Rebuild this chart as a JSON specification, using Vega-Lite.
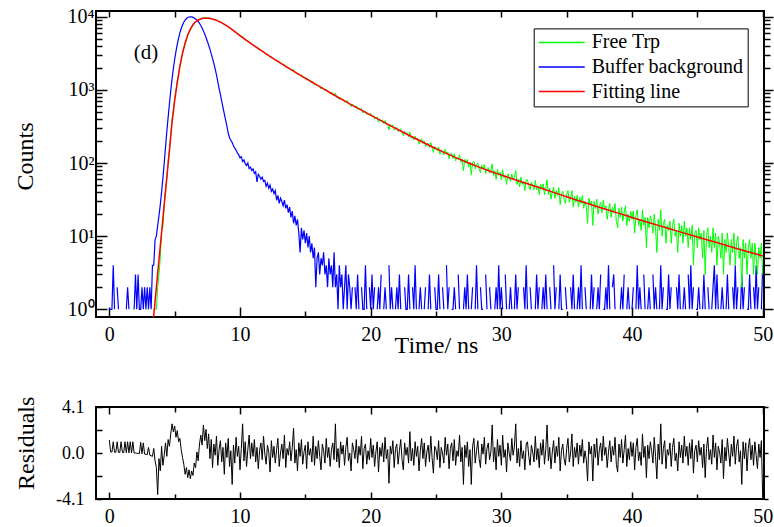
{
"$schema":"https://vega.github.io/schema/vega-lite/v6.json",
"background":"white",
"padding":{"left":12,"top":5,"right":5,"bottom":0},
"spacing":37,
"config":{"view":{"stroke":"black","strokeWidth":2},"font":"Liberation Serif",
"axis":{"labelFont":"Liberation Serif","titleFont":"Liberation Serif","labelColor":"black","titleColor":"black","tickColor":"black","tickWidth":1.5,"domain":false,"grid":false,"labelFontSize":20,"titleFontSize":24,"titleFontWeight":"normal","labelFlush":false,"labelOverlap":false}},
"datasets":{
"m":[
{"t":0,"b":1,"r":1.15},{"t":0.1,"b":1,"r":0.1},{"t":0.2,"b":1,"r":0.08},{"t":0.3,"b":4,"r":1.0},{"t":0.4,"b":1,"r":0.07},{"t":0.5,"r":0.06},{"t":0.6,"b":2,"r":1.0},{"t":0.7,"b":1,"r":0.05},{"t":0.8,"r":0.05},{"t":0.9,"r":1.0},
{"t":1.0,"r":0.04},{"t":1.1,"r":0.03},{"t":1.2,"r":1.0},{"t":1.3,"b":1,"r":0.02},{"t":1.4,"b":2,"r":1.0},{"t":1.5,"b":1,"r":0.01},{"t":1.6,"r":1.0},{"t":1.7,"r":0},{"t":1.8,"g":1,"r":1.0},{"t":1.9,"b":1,"g":1,"r":-0.01},
{"t":2.0,"b":3,"r":0},{"t":2.1,"b":1,"r":-0.02},{"t":2.2,"b":3,"r":-0.03},{"t":2.3,"b":1,"r":-0.05},{"t":2.4,"b":1,"r":0.95},{"t":2.5,"b":2,"r":-0.06},{"t":2.6,"b":1,"r":0.9},{"t":2.7,"b":2,"r":-0.1},{"t":2.8,"b":1,"r":-0.12},{"t":2.9,"b":2,"g":1,"r":-0.15},
{"t":3.0,"b":1,"g":1,"r":0.5},{"t":3.1,"b":2,"r":-0.2},{"t":3.2,"b":1,"r":-0.25},{"t":3.3,"b":4,"r":-0.3},{"t":3.4,"b":4,"g":1,"r":0.4},{"t":3.5,"b":9,"g":1,"r":-0.7},{"t":3.6,"b":10,"g":1,"r":-1.3},{"t":3.7,"b":14,"g":2,"r":-3.7},{"t":3.8,"b":19,"g":3,"r":-0.5},{"t":3.9,"b":27,"g":5,"r":-1.6},
{"t":4.0,"b":40,"g":12,"r":0.6},{"t":4.1,"b":62,"g":13,"r":-1.1},{"t":4.2,"b":100,"g":26,"r":-0.2},{"t":4.3,"b":165,"g":47,"r":0.9},{"t":4.4,"b":270,"g":61,"r":-0.3},{"t":4.5,"b":420,"g":109,"r":1.2},{"t":4.6,"b":650,"g":155,"r":0.6},{"t":4.7,"b":980,"g":255,"r":1.7},{"t":4.8,"b":1400,"g":404,"r":2.6},{"t":4.9,"b":1950,"g":542,"r":1.9},
{"t":5.0,"b":2600,"g":774,"r":2.4},{"t":5.1,"b":3350,"g":987,"r":1.4},{"t":5.2,"b":4200,"g":1331,"r":2.0},{"t":5.3,"b":5100,"g":1660,"r":1.0},{"t":5.4,"b":6000,"g":2149,"r":1.3},{"t":5.5,"b":6900,"g":2585,"r":0.3},{"t":5.6,"b":7700,"g":3138,"r":-0.4},{"t":5.7,"b":8400,"g":3659,"r":-1.0},{"t":5.8,"b":9000,"g":4244,"r":-1.9},{"t":5.9,"b":9450,"g":4858,"r":-1.3},
{"t":6.0,"b":9750,"g":5455,"r":-2.2},{"t":6.1,"b":9920,"g":6052,"r":-1.5},{"t":6.2,"b":9980,"g":6571,"r":-2.3},{"t":6.3,"b":9950,"g":7104,"r":-1.6},{"t":6.4,"b":9800,"g":7584,"r":-2.0},{"t":6.5,"b":9580,"g":8049,"r":-0.9},{"t":6.6,"b":9300,"g":8390,"r":-1.3},{"t":6.7,"b":8980,"g":8779,"r":0.1},{"t":6.8,"b":8600,"g":8954,"r":-0.7},{"t":6.9,"b":8130,"g":9257,"r":0.8},
{"t":7.0,"b":7600,"g":9484,"r":1.6},{"t":7.1,"b":7000,"g":9488,"r":0.7},{"t":7.2,"b":6400,"g":9754,"r":2.5},{"t":7.3,"b":5800,"g":9637,"r":1.1},{"t":7.4,"b":5200,"g":9755,"r":2.1},{"t":7.5,"b":4620,"g":9579,"r":0.4},{"t":7.6,"b":4100,"g":9676,"r":1.7},{"t":7.7,"b":3580,"g":9401,"r":-0.5},{"t":7.8,"b":3100,"g":9496,"r":1.2},{"t":7.9,"b":2680,"g":9165,"r":-1.3},
{"t":8.0,"b":2300,"g":9237,"r":0.8},{"t":8.1,"b":1930,"g":9021,"r":-0.2},{"t":8.2,"b":1600,"g":9052,"r":1.5},{"t":8.3,"b":1300,"g":8667,"r":-1.1},{"t":8.4,"b":1050,"g":8648,"r":0.3},{"t":8.5,"b":860,"g":8551,"r":1.1},{"t":8.6,"b":700,"g":8197,"r":-0.8},{"t":8.7,"b":570,"g":8125,"r":0.5},{"t":8.8,"b":470,"g":7711,"r":-1.9},{"t":8.9,"b":385,"g":7759,"r":0.9},
{"t":9.0,"b":320,"g":7445,"r":-0.4},{"t":9.1,"b":255,"g":7381,"r":1.3},{"t":9.2,"b":222,"g":6969,"r":-1.2},{"t":9.3,"b":205,"g":6877,"r":0.2},{"t":9.4,"b":190,"g":6432,"r":-2.8},{"t":9.5,"b":172,"g":6516,"r":0.7},{"t":9.6,"b":160,"g":6189,"r":-0.9},{"t":9.7,"b":150,"g":6169,"r":1.4},{"t":9.8,"b":136,"g":5857,"r":-0.3},{"t":9.9,"b":130,"g":5745,"r":0.6},
{"t":10.0,"b":118,"g":5409,"r":-1.5},{"t":10.1,"b":122,"g":5389,"r":0.4},{"t":10.2,"b":105,"g":5387,"r":2.6},{"t":10.3,"b":110,"g":4990,"r":-0.7},{"t":10.4,"b":98,"g":4960,"r":1.0},{"t":10.5,"b":92,"g":4657,"r":-1.2},{"t":10.6,"b":100,"g":4630,"r":0.3},{"t":10.7,"b":84,"g":4587,"r":1.6},{"t":10.8,"b":88,"g":4317,"r":-0.5},{"t":10.9,"b":79,"g":4278,"r":0.9},
{"t":11.0,"b":83,"g":4081,"r":-0.3},{"t":11.1,"b":72,"g":4066,"r":1.2},{"t":11.2,"b":76,"g":3830,"r":-0.8},{"t":11.3,"b":55,"g":3801,"r":0.5},{"t":11.4,"b":70,"g":3580,"r":-1.4},{"t":11.5,"b":66,"g":3577,"r":0.2},{"t":11.6,"b":60,"g":3523,"r":0.9},{"t":11.7,"b":64,"g":3340,"r":-0.6},{"t":11.8,"b":56,"g":3371,"r":1.5},{"t":11.9,"b":58,"g":3189,"r":-0.1},
{"t":12.0,"b":48,"g":3054,"r":-1.0},{"t":12.1,"b":53,"g":3069,"r":0.7},{"t":12.2,"b":45,"g":2955,"r":0.1},{"t":12.3,"b":50,"g":2779,"r":-1.7},{"t":12.4,"b":41,"g":2853,"r":1.1},{"t":12.5,"b":44,"g":2699,"r":-0.4},{"t":12.6,"b":38,"g":2681,"r":0.6},{"t":12.7,"b":42,"g":2539,"r":-0.9},{"t":12.8,"b":31,"g":2530,"r":0.3},{"t":12.9,"b":36,"g":2514,"r":1.3},
{"t":13.0,"b":28,"g":2331,"r":-1.2},{"t":13.1,"b":33,"g":2330,"r":0},{"t":13.2,"b":30,"g":2308,"r":0.8},{"t":13.3,"b":26,"g":2187,"r":-0.5},{"t":13.4,"b":31,"g":2229,"r":1.6},{"t":13.5,"b":24,"g":2040,"r":-1.3},{"t":13.6,"b":27,"g":2066,"r":0.4},{"t":13.7,"b":21,"g":1988,"r":-0.2},{"t":13.8,"b":25,"g":1991,"r":1.0},{"t":13.9,"b":18,"g":1867,"r":-0.7},
{"t":14.0,"b":22,"g":1872,"r":0.5},{"t":14.1,"b":15,"g":1899,"r":2.2},{"t":14.2,"b":19,"g":1723,"r":-0.9},{"t":14.3,"b":14,"g":1729,"r":0.3},{"t":14.4,"b":17,"g":1610,"r":-1.6},{"t":14.5,"b":11,"g":1669,"r":0.9},{"t":14.6,"b":6,"g":1582,"r":-0.3},{"t":14.7,"b":13,"g":1603,"r":1.2},{"t":14.8,"b":9,"g":1479,"r":-1.0},{"t":14.9,"b":12,"g":1485,"r":0.1},
{"t":15.0,"b":8,"g":1472,"r":0.7},{"t":15.1,"b":11,"g":1358,"r":-1.4},{"t":15.2,"b":7,"g":1414,"r":1.0},{"t":15.3,"b":10,"g":1337,"r":-0.2},{"t":15.4,"b":6,"g":1326,"r":0.4},{"t":15.5,"b":8,"g":1251,"r":-0.8},{"t":15.6,"b":5,"g":1303,"r":1.5},{"t":15.7,"b":7,"g":1182,"r":-1.1},{"t":15.8,"b":2,"g":1212,"r":0.6},{"t":15.9,"b":5,"g":1146,"r":-0.5},
{"t":16.0,"b":6,"g":1172,"r":1.1},{"t":16.1,"b":3,"g":1098,"r":-0.3},{"t":16.2,"b":5,"g":1033,"r":-1.5},{"t":16.3,"b":4,"g":1082,"r":0.8},{"t":16.4,"b":6,"g":1036,"r":0.2},{"t":16.5,"b":3,"g":976,"r":-0.9},{"t":16.6,"b":4,"g":1023,"r":1.3},{"t":16.7,"b":2,"g":947,"r":-0.4},{"t":16.8,"b":5,"g":951,"r":0.5},{"t":16.9,"b":3,"g":878,"r":-1.2},
{"t":17.0,"b":4,"g":901,"r":0.3},{"t":17.1,"b":2,"g":898,"r":0.9},{"t":17.2,"b":6,"g":833,"r":-0.6},{"t":17.3,"b":2,"g":906,"r":2.6},{"t":17.4,"b":3,"g":789,"r":-0.8},{"t":17.5,"b":1,"g":804,"r":0.4},{"t":17.6,"b":4,"g":739,"r":-1.3},{"t":17.7,"b":2,"g":785,"r":1.0},{"t":17.8,"b":3,"g":736,"r":-0.1},{"t":17.9,"b":1,"g":741,"r":0.7},
{"t":18.0,"b":2,"g":677,"r":-1.1},{"t":18.1,"b":4,"g":703,"r":0.5},{"t":18.2,"b":1,"g":710,"r":1.4},{"t":18.3,"b":3,"g":641,"r":-0.7},{"t":18.4,"b":2,"g":644,"r":0},{"t":18.5,"b":1,"g":590,"r":-1.6},{"t":18.6,"b":2,"g":638,"r":0.9},{"t":18.7,"g":609,"r":0.3},{"t":18.8,"b":2,"g":577,"r":-0.5},{"t":18.9,"b":1,"g":605,"r":1.2},
{"t":19.0,"b":3,"g":542,"r":-0.9},{"t":19.1,"b":1,"g":565,"r":0.6},{"t":19.2,"g":534,"r":-0.2},{"t":19.3,"b":2,"g":562,"r":1.5},{"t":19.4,"b":1,"g":483,"r":-1.4},{"t":19.5,"b":1,"g":513,"r":0.4},{"t":19.6,"b":4,"g":511,"r":0.8},{"t":19.7,"b":1,"g":460,"r":-1.0},{"t":19.8,"g":475,"r":0.2},{"t":19.9,"b":2,"g":448,"r":-0.6},
{"t":20.0,"b":1,"g":479,"r":1.3},{"t":20.1,"b":3,"g":433,"r":-0.4},{"t":20.2,"b":1,"g":447,"r":0.7},{"t":20.3,"b":2,"g":397,"r":-1.2},{"t":20.4,"g":415,"r":0.1},{"t":20.5,"b":1,"g":424,"r":1.0},{"t":20.6,"b":2,"g":361,"r":-1.7},{"t":20.7,"b":1,"g":397,"r":0.5},{"t":20.8,"b":3,"g":372,"r":-0.3},{"t":20.9,"g":387,"r":0.9},
{"t":21.0,"b":1,"g":347,"r":-0.8},{"t":21.1,"b":2,"g":380,"r":1.4},{"t":21.2,"b":1,"g":338,"r":-0.5},{"t":21.3,"g":345,"r":0.3},{"t":21.4,"b":4,"g":283,"r":-2.7},{"t":21.5,"b":1,"g":336,"r":0.6},{"t":21.6,"b":2,"g":316,"r":-0.1},{"t":21.7,"b":1,"g":330,"r":1.1},{"t":21.8,"g":282,"r":-1.3},{"t":21.9,"b":1,"g":305,"r":0.4},
{"t":22.0,"b":2,"g":306,"r":0.8},{"t":22.1,"b":1,"g":269,"r":-1.0},{"t":22.2,"b":3,"g":283,"r":0.2},{"t":22.3,"b":1,"g":294,"r":1.2},{"t":22.4,"g":258,"r":-0.6},{"t":22.5,"g":238,"r":-1.5},{"t":22.6,"b":2,"g":271,"r":0.9},{"t":22.7,"b":1,"g":248,"r":-0.2},{"t":22.8,"b":1,"g":254,"r":0.5},{"t":22.9,"b":3,"g":227,"r":-0.9},
{"t":23.0,"b":1,"g":265,"r":1.9},{"t":23.1,"g":220,"r":-0.7},{"t":23.2,"b":2,"g":233,"r":0.4},{"t":23.3,"b":1,"g":206,"r":-1.1},{"t":23.4,"b":4,"g":233,"r":1.0},{"t":23.5,"b":1,"g":209,"r":-0.3},{"t":23.6,"g":218,"r":0.6},{"t":23.7,"b":1,"g":181,"r":-1.6},{"t":23.8,"b":2,"g":203,"r":0.2},{"t":23.9,"b":1,"g":214,"r":1.3},
{"t":24.0,"g":185,"r":-0.5},{"t":24.1,"b":1,"g":200,"r":0.9},{"t":24.2,"b":2,"g":168,"r":-1.2},{"t":24.3,"g":182,"r":0.1},{"t":24.4,"b":1,"g":186,"r":0.7},{"t":24.5,"b":3,"g":163,"r":-0.8},{"t":24.6,"b":1,"g":190,"r":1.5},{"t":24.7,"g":162,"r":-0.4},{"t":24.8,"g":140,"r":-1.8},{"t":24.9,"b":2,"g":168,"r":0.6},
{"t":25.0,"b":1,"g":161,"r":0.3},{"t":25.1,"b":1,"g":147,"r":-0.6},{"t":25.2,"b":3,"g":165,"r":1.1},{"t":25.3,"b":1,"g":132,"r":-1.3},{"t":25.4,"g":152,"r":0.5},{"t":25.5,"b":2,"g":143,"r":0},{"t":25.6,"b":1,"g":129,"r":-0.9},{"t":25.7,"g":154,"r":1.4},{"t":25.8,"b":4,"g":133,"r":-0.2},{"t":25.9,"b":1,"g":142,"r":0.8},
{"t":26.0,"b":2,"g":114,"r":-1.4},{"t":26.1,"g":133,"r":0.4},{"t":26.2,"b":1,"g":135,"r":0.9},{"t":26.3,"b":1,"g":115,"r":-0.7},{"t":26.4,"b":2,"g":134,"r":1.2},{"t":26.5,"b":1,"g":107,"r":-1.1},{"t":26.6,"g":119,"r":0.2},{"t":26.7,"b":3,"g":112,"r":-0.3},{"t":26.8,"b":1,"g":130,"r":1.6},{"t":26.9,"g":103,"r":-0.8},
{"t":27.0,"g":114,"r":0.5},{"t":27.1,"b":1,"g":78,"r":-2.8},{"t":27.2,"b":2,"g":112,"r":0.7},{"t":27.3,"b":1,"g":100,"r":-0.4},{"t":27.4,"b":3,"g":112,"r":1.0},{"t":27.5,"b":1,"g":88,"r":-1.2},{"t":27.6,"g":102,"r":0.3},{"t":27.7,"b":1,"g":69,"r":-2.8},{"t":27.8,"b":2,"g":101,"r":0.6},{"t":27.9,"g":106,"r":1.3},
{"t":28.0,"b":1,"g":83,"r":-0.9},{"t":28.1,"b":4,"g":93,"r":0.2},{"t":28.2,"b":1,"g":100,"r":1.1},{"t":28.3,"g":83,"r":-0.5},{"t":28.4,"b":2,"g":74,"r":-1.3},{"t":28.5,"b":1,"g":93,"r":0.8},{"t":28.6,"b":1,"g":83,"r":-0.1},{"t":28.7,"g":95,"r":1.4},{"t":28.8,"b":3,"g":72,"r":-1.0},{"t":28.9,"b":1,"g":84,"r":0.4},
{"t":29.0,"g":87,"r":0.9},{"t":29.1,"b":2,"g":73,"r":-0.6},{"t":29.2,"b":1,"g":78,"r":0.1},{"t":29.3,"g":97,"r":2.5},{"t":29.4,"g":68,"r":-0.8},{"t":29.5,"b":1,"g":78,"r":0.5},{"t":29.6,"b":2,"g":60,"r":-1.5},{"t":29.7,"b":1,"g":82,"r":1.2},{"t":29.8,"b":4,"g":68,"r":-0.3},{"t":29.9,"b":1,"g":75,"r":0.7},
{"t":30.0,"b":2,"g":59,"r":-1.1},{"t":30.1,"b":1,"g":81,"r":1.6},{"t":30.2,"g":63,"r":-0.4},{"t":30.3,"b":3,"g":68,"r":0.3},{"t":30.4,"b":1,"g":51,"r":-1.7},{"t":30.5,"g":71,"r":0.9},{"t":30.6,"b":1,"g":63,"r":0},{"t":30.7,"b":2,"g":56,"r":-0.7},{"t":30.8,"b":1,"g":71,"r":1.3},{"t":30.9,"g":59,"r":-0.2},
{"t":31.0,"b":1,"g":64,"r":0.6},{"t":31.1,"b":3,"g":79,"r":2.6},{"t":31.2,"b":1,"g":51,"r":-0.9},{"t":31.3,"b":2,"g":60,"r":0.4},{"t":31.4,"g":47,"r":-1.2},{"t":31.5,"b":1,"g":64,"r":1.1},{"t":31.6,"g":51,"r":-0.5},{"t":31.7,"b":2,"g":56,"r":0.2},{"t":31.8,"b":1,"g":42,"r":-1.5},{"t":31.9,"b":4,"g":59,"r":0.8},
{"t":32.0,"b":1,"g":59,"r":1.0},{"t":32.1,"g":49,"r":-0.3},{"t":32.2,"b":2,"g":43,"r":-1.1},{"t":32.3,"b":1,"g":55,"r":0.7},{"t":32.4,"g":50,"r":0.1},{"t":32.5,"g":43,"r":-0.8},{"t":32.6,"b":1,"g":58,"r":1.5},{"t":32.7,"b":3,"g":43,"r":-0.6},{"t":32.8,"b":1,"g":49,"r":0.4},{"t":32.9,"b":2,"g":37,"r":-1.3},
{"t":33.0,"g":51,"r":0.9},{"t":33.1,"b":1,"g":44,"r":-0.2},{"t":33.2,"b":2,"g":52,"r":1.2},{"t":33.3,"b":1,"g":37,"r":-1.0},{"t":33.4,"b":3,"g":45,"r":0.3},{"t":33.5,"b":1,"g":59,"r":2.5},{"t":33.6,"g":37,"r":-0.7},{"t":33.7,"b":2,"g":45,"r":0.5},{"t":33.8,"b":1,"g":32,"r":-1.4},{"t":33.9,"g":41,"r":0.1},
{"t":34.0,"b":4,"g":47,"r":1.1},{"t":34.1,"b":1,"g":33,"r":-0.9},{"t":34.2,"b":2,"g":42,"r":0.6},{"t":34.3,"g":36,"r":-0.3},{"t":34.4,"b":1,"g":46,"r":1.4},{"t":34.5,"b":3,"g":27,"r":-1.6},{"t":34.6,"b":1,"g":38,"r":0.2},{"t":34.7,"b":1,"g":41,"r":0.8},{"t":34.8,"g":32,"r":-0.5},{"t":34.9,"b":2,"g":28,"r":-1.1},
{"t":35.0,"b":1,"g":37,"r":0.4},{"t":35.1,"g":42,"r":1.3},{"t":35.2,"g":29,"r":-0.8},{"t":35.3,"b":2,"g":33,"r":0},{"t":35.4,"b":1,"g":42,"r":1.7},{"t":35.5,"b":3,"g":25,"r":-1.2},{"t":35.6,"b":1,"g":35,"r":0.5},{"t":35.7,"g":29,"r":-0.4},{"t":35.8,"b":1,"g":36,"r":0.9},{"t":35.9,"b":2,"g":25,"r":-1.0},
{"t":36.0,"b":1,"g":34,"r":0.7},{"t":36.1,"b":4,"g":28,"r":-0.3},{"t":36.2,"b":1,"g":36,"r":1.2},{"t":36.3,"g":24,"r":-0.9},{"t":36.4,"b":2,"g":30,"r":0.2},{"t":36.5,"b":1,"g":25,"r":-0.6},{"t":36.6,"g":15,"r":-2.5},{"t":36.7,"g":33,"r":1.0},{"t":36.8,"b":1,"g":27,"r":-0.1},{"t":36.9,"b":3,"g":30,"r":0.6},
{"t":37.0,"b":1,"g":14,"r":-2.5},{"t":37.1,"b":2,"g":30,"r":0.8},{"t":37.2,"g":24,"r":-0.4},{"t":37.3,"b":1,"g":32,"r":1.3},{"t":37.4,"b":2,"g":20,"r":-1.1},{"t":37.5,"b":1,"g":26,"r":0.3},{"t":37.6,"b":3,"g":29,"r":0.9},{"t":37.7,"g":21,"r":-0.7},{"t":37.8,"b":1,"g":31,"r":1.5},{"t":37.9,"b":1,"g":23,"r":-0.2},
{"t":38.0,"b":2,"g":26,"r":0.5},{"t":38.1,"b":1,"g":17,"r":-1.3},{"t":38.2,"b":4,"g":23,"r":0.1},{"t":38.3,"b":1,"g":28,"r":1.1},{"t":38.4,"g":18,"r":-0.8},{"t":38.5,"b":2,"g":25,"r":0.6},{"t":38.6,"b":3,"g":21,"r":-0.2},{"t":38.7,"b":1,"g":28,"r":1.4},{"t":38.8,"g":16,"r":-1.0},{"t":38.9,"b":1,"g":13,"r":-1.7},
{"t":39.0,"g":24,"r":0.8},{"t":39.1,"b":1,"g":18,"r":-0.4},{"t":39.2,"b":2,"g":25,"r":1.2},{"t":39.3,"b":1,"g":16,"r":-0.9},{"t":39.4,"b":3,"g":21,"r":0.3},{"t":39.5,"g":26,"r":1.6},{"t":39.6,"b":1,"g":14,"r":-1.2},{"t":39.7,"b":2,"g":20,"r":0.4},{"t":39.8,"b":1,"g":16,"r":-0.6},{"t":39.9,"g":22,"r":1.0},
{"t":40.0,"b":1,"g":17,"r":-0.3},{"t":40.1,"b":2,"g":22,"r":0.9},{"t":40.2,"g":11,"r":-1.5},{"t":40.3,"b":1,"g":19,"r":0.5},{"t":40.4,"b":4,"g":23,"r":1.3},{"t":40.5,"b":1,"g":14,"r":-0.7},{"t":40.6,"b":2,"g":17,"r":0.1},{"t":40.7,"b":1,"g":12,"r":-1.1},{"t":40.8,"g":23,"r":1.7},{"t":40.9,"b":3,"g":14,"r":-0.4},
{"t":41.0,"b":1,"g":18,"r":0.6},{"t":41.1,"g":7,"r":-2.2},{"t":41.2,"b":1,"g":18,"r":0.7},{"t":41.3,"b":2,"g":13,"r":-0.5},{"t":41.4,"b":1,"g":19,"r":1.0},{"t":41.5,"g":16,"r":0.2},{"t":41.6,"b":3,"g":11,"r":-0.9},{"t":41.7,"b":1,"g":20,"r":1.4},{"t":41.8,"b":2,"g":13,"r":-0.3},{"t":41.9,"b":1,"g":6,"r":-2.3},
{"t":42.0,"g":17,"r":0.8},{"t":42.1,"b":1,"g":12,"r":-0.6},{"t":42.2,"b":4,"g":23,"r":2.6},{"t":42.3,"b":1,"g":10,"r":-1.0},{"t":42.4,"b":2,"g":15,"r":0.4},{"t":42.5,"g":17,"r":1.1},{"t":42.6,"b":1,"g":8,"r":-1.4},{"t":42.7,"b":1,"g":14,"r":0.3},{"t":42.8,"b":3,"g":12,"r":-0.2},{"t":42.9,"b":1,"g":16,"r":0.9},
{"t":43.0,"b":2,"g":8,"r":-1.2},{"t":43.1,"g":14,"r":0.5},{"t":43.2,"b":1,"g":17,"r":1.3},{"t":43.3,"g":10,"r":-0.7},{"t":43.4,"b":2,"g":12,"r":0},{"t":43.5,"b":1,"g":6,"r":-1.6},{"t":43.6,"b":3,"g":15,"r":1.0},{"t":43.7,"b":1,"g":10,"r":-0.4},{"t":43.8,"g":14,"r":0.7},{"t":43.9,"b":1,"g":8,"r":-0.9},
{"t":44.0,"b":2,"g":16,"r":1.5},{"t":44.1,"b":1,"g":10,"r":-0.3},{"t":44.2,"g":13,"r":0.6},{"t":44.3,"b":3,"g":7,"r":-1.1},{"t":44.4,"b":1,"g":13,"r":0.9},{"t":44.5,"b":4,"g":9,"r":-0.5},{"t":44.6,"b":1,"g":14,"r":1.2},{"t":44.7,"b":2,"g":4,"r":-1.8},{"t":44.8,"g":11,"r":0.2},{"t":44.9,"b":1,"g":12,"r":0.7},
{"t":45.0,"b":1,"g":7,"r":-0.8},{"t":45.1,"b":2,"g":13,"r":1.1},{"t":45.2,"b":1,"g":9,"r":-0.2},{"t":45.3,"g":11,"r":0.5},{"t":45.4,"b":1,"g":5,"r":-1.3},{"t":45.5,"b":3,"g":12,"r":0.8},{"t":45.6,"b":1,"g":3,"r":-2.2},{"t":45.7,"g":10,"r":0.4},{"t":45.8,"b":2,"g":13,"r":1.4},{"t":45.9,"b":1,"g":7,"r":-0.6},
{"t":46.0,"g":10,"r":0.3},{"t":46.1,"b":1,"g":6,"r":-1.0},{"t":46.2,"b":2,"g":13,"r":1.6},{"t":46.3,"b":4,"g":7,"r":-0.4},{"t":46.4,"b":1,"g":11,"r":0.9},{"t":46.5,"b":3,"g":4,"r":-1.5},{"t":46.6,"b":1,"g":10,"r":0.6},{"t":46.7,"g":8,"r":0.1},{"t":46.8,"b":1,"g":5,"r":-0.9},{"t":46.9,"b":2,"g":11,"r":1.2},
{"t":47.0,"b":1,"g":3,"r":-2.3},{"t":47.1,"g":9,"r":0.5},{"t":47.2,"b":1,"g":6,"r":-0.7},{"t":47.3,"b":3,"g":11,"r":1.3},{"t":47.4,"b":1,"g":7,"r":0},{"t":47.5,"g":4,"r":-1.2},{"t":47.6,"g":9,"r":0.8},{"t":47.7,"b":2,"g":6,"r":-0.3},{"t":47.8,"b":1,"g":11,"r":1.5},{"t":47.9,"b":4,"g":4,"r":-1.0},
{"t":48.0,"b":1,"g":8,"r":0.6},{"t":48.1,"b":2,"g":10,"r":1.2},{"t":48.2,"g":5,"r":-0.8},{"t":48.3,"b":1,"g":7,"r":0.2},{"t":48.4,"b":3,"g":2,"r":-2.8},{"t":48.5,"b":1,"g":9,"r":1.0},{"t":48.6,"b":2,"g":5,"r":-0.5},{"t":48.7,"g":8,"r":0.9},{"t":48.8,"b":1,"g":3,"r":-1.6},{"t":48.9,"b":1,"g":7,"r":0.4},
{"t":49.0,"b":3,"g":9,"r":1.3},{"t":49.1,"b":1,"g":5,"r":-0.6},{"t":49.2,"g":8,"r":0.7},{"t":49.3,"b":2,"g":3,"r":-1.1},{"t":49.4,"b":1,"g":8,"r":1.0},{"t":49.5,"b":4,"g":5,"r":-0.2},{"t":49.6,"b":1,"g":3,"r":-1.4},{"t":49.7,"b":2,"g":7,"r":0.8},{"t":49.8,"g":5,"r":-0.4},{"t":49.9,"b":1,"g":8,"r":1.1},
{"t":50.0,"b":4,"g":3,"r":-4.0}
],
"fit":[
{"t":3.3,"f":0.6},{"t":3.4,"f":0.83},{"t":3.5,"f":1.29},{"t":3.6,"f":2.0},{"t":3.7,"f":3.1},{"t":3.8,"f":4.8},{"t":3.9,"f":7.3},{"t":4.0,"f":11.2},{"t":4.1,"f":17.4},{"t":4.2,"f":27},{"t":4.3,"f":41},{"t":4.4,"f":63},{"t":4.5,"f":97},{"t":4.6,"f":148},{"t":4.7,"f":229},{"t":4.8,"f":355},{"t":4.9,"f":500},
{"t":5.0,"f":710},{"t":5.1,"f":944},{"t":5.2,"f":1260},{"t":5.3,"f":1620},{"t":5.4,"f":2090},{"t":5.5,"f":2570},{"t":5.6,"f":3160},{"t":5.7,"f":3720},{"t":5.8,"f":4370},{"t":5.9,"f":4950},
{"t":6.0,"f":5620},{"t":6.1,"f":6170},{"t":6.2,"f":6760},{"t":6.3,"f":7240},{"t":6.4,"f":7760},{"t":6.5,"f":8130},{"t":6.6,"f":8510},{"t":6.7,"f":8770},{"t":6.8,"f":9020},{"t":6.9,"f":9180},
{"t":7.0,"f":9330},{"t":7.2,"f":9510},{"t":7.4,"f":9550},{"t":7.6,"f":9510},{"t":7.8,"f":9380},{"t":8.0,"f":9160},{"t":8.25,"f":8850},{"t":8.5,"f":8450},{"t":8.75,"f":7980},
{"t":9.0,"f":7480},{"t":9.25,"f":6970},{"t":9.5,"f":6460},{"t":9.75,"f":5970},{"t":10.0,"f":5520},{"t":10.5,"f":4740},{"t":11,"f":4100},{"t":11.5,"f":3565},{"t":12,"f":3110},{"t":12.5,"f":2720},
{"t":13,"f":2390},{"t":13.5,"f":2100},{"t":14,"f":1850},{"t":14.5,"f":1633},{"t":15,"f":1445},{"t":15.5,"f":1280},{"t":16,"f":1135},{"t":16.5,"f":1005},{"t":17,"f":892},{"t":17.5,"f":793},{"t":18,"f":706},{"t":18.5,"f":630},{"t":19,"f":563},{"t":19.5,"f":504},
{"t":20,"f":451},{"t":21,"f":362},{"t":22,"f":292},{"t":23,"f":236},{"t":24,"f":192},{"t":25,"f":157},{"t":26,"f":130},{"t":27,"f":109},{"t":28,"f":92},{"t":29,"f":79},
{"t":30,"f":68.5},{"t":31,"f":59.5},{"t":32,"f":52},{"t":33,"f":45.5},{"t":34,"f":39.7},{"t":35,"f":34.5},{"t":36,"f":30.2},{"t":37,"f":26.5},{"t":38,"f":23.3},{"t":39,"f":20.5},
{"t":40,"f":18},{"t":41,"f":15.9},{"t":42,"f":14.05},{"t":43,"f":12.45},{"t":44,"f":11},{"t":45,"f":9.75},{"t":46,"f":8.65},{"t":47,"f":7.67},{"t":48,"f":6.8},{"t":49,"f":6.04},{"t":50,"f":5.36}
]
},
"vconcat":[
{
"width":668,"height":306,
"resolve":{"axis":{"x":"independent","y":"independent"}},
"layer":[
{"data":{"name":"m"},
"mark":{"type":"line","strokeWidth":1.2,"clip":true,"invalid":"break-paths-show-domains"},
"encoding":{
"x":{"field":"t","type":"quantitative","scale":{"domain":[-1.02,50.1],"nice":false,"zero":false},
"axis":{"orient":"bottom","values":[0,10,20,30,40,50],"ticks":false,"labelPadding":7,"title":"Time/ ns","titleX":340,"titleY":28,"titleBaseline":"middle","titleAlign":"center"}},
"y":{"field":"b","type":"quantitative","scale":{"type":"log","domain":[0.785,11970],"nice":false},
"axis":{"orient":"left","values":[1,10,100,1000,10000],"ticks":false,"labelPadding":2,"labelExpr":"datum.value >= 10000 ? '10⁴' : datum.value >= 1000 ? '10³' : datum.value >= 100 ? '10²' : datum.value >= 10 ? '10¹' : '10⁰'","title":"Counts","titleX":-70.5,"titleY":145,"titleAngle":270,"titleAlign":"center","titleBaseline":"middle"}},
"color":{"datum":"Buffer background","scale":{"domain":["Free Trp","Buffer background","Fitting line"],"range":["#00ff00","#0000ff","#ff0000"]},
"legend":{"orient":"none","legendX":437.7,"legendY":17.4,"title":null,"strokeColor":"black","fillColor":"white","padding":4,"labelFont":"Liberation Serif","labelFontSize":20,"labelColor":"black","symbolType":"stroke","symbolSize":2116,"symbolStrokeWidth":1.5,"rowPadding":4.6,"labelOffset":6,"clipHeight":20,"labelLimit":400}}
}},
{"data":{"name":"m"},
"mark":{"type":"line","strokeWidth":1,"clip":true,"invalid":"break-paths-show-domains"},
"encoding":{
"x":{"field":"t","type":"quantitative","axis":{"orient":"bottom","values":[0,10,20,30,40,50],"labels":false,"tickSize":-10,"title":null}},
"y":{"field":"g","type":"quantitative","axis":{"orient":"left","values":[1,10,100,1000,10000],"labels":false,"tickSize":-11,"title":null}},
"color":{"datum":"Free Trp"}
}},
{"data":{"name":"fit"},
"mark":{"type":"line","strokeWidth":1.5,"clip":true,"interpolate":"monotone"},
"encoding":{
"x":{"field":"t","type":"quantitative","axis":{"orient":"bottom","values":[5,15,25,35,45],"labels":false,"tickSize":-6,"title":null}},
"y":{"field":"f","type":"quantitative","axis":{"orient":"left","values":[2,3,4,5,6,7,8,9,20,30,40,50,60,70,80,90,200,300,400,500,600,700,800,900,2000,3000,4000,5000,6000,7000,8000,9000],"labels":false,"tickSize":-6,"title":null}},
"color":{"datum":"Fitting line"}
}},
{"data":{"values":[{"t":2.81,"c":3210,"s":"(d)"}]},
"mark":{"type":"text","font":"Liberation Serif","fontSize":21,"align":"center","baseline":"middle","color":"black"},
"encoding":{
"x":{"field":"t","type":"quantitative","axis":{"orient":"top","values":[0,5,10,15,20,25,30,35,40,45,50],"labels":false,"tickSize":-6,"title":null}},
"y":{"field":"c","type":"quantitative","axis":{"orient":"right","values":[1,10,100,1000,10000],"labels":false,"tickSize":9,"title":null}},
"text":{"field":"s"}
}},
{"data":{"values":[{"t":0,"v":1}]},
"mark":{"type":"point","opacity":0},
"encoding":{
"x":{"field":"t","type":"quantitative","axis":null},
"y":{"field":"v","type":"quantitative","axis":{"orient":"right","values":[2,3,4,5,6,7,8,9,20,30,40,50,60,70,80,90,200,300,400,500,600,700,800,900,2000,3000,4000,5000,6000,7000,8000,9000],"labels":false,"tickSize":6,"title":null}}
}}
]
},
{
"width":668,"height":92,
"resolve":{"axis":{"x":"independent","y":"independent"}},
"layer":[
{"data":{"name":"m"},
"mark":{"type":"line","strokeWidth":1,"color":"black","clip":true},
"encoding":{
"x":{"field":"t","type":"quantitative","scale":{"domain":[-1.02,50.1],"nice":false,"zero":false},
"axis":{"orient":"bottom","values":[0,10,20,30,40,50],"ticks":false,"labelPadding":7,"title":null}},
"y":{"field":"r","type":"quantitative","scale":{"domain":[-4.1,4.1],"nice":false,"zero":false},
"axis":{"orient":"left","values":[-4.1,0,4.1],"ticks":false,"labelPadding":12,"labelFontSize":18,"labelExpr":"datum.value < -1 ? '-4.1' : datum.value > 1 ? '4.1' : '0.0'","title":"Residuals","titleX":-70,"titleY":35.8,"titleAngle":270,"titleAlign":"center","titleBaseline":"middle"}}
}},
{"data":{"values":[{"t":0,"v":0}]},
"mark":{"type":"point","opacity":0},
"encoding":{
"x":{"field":"t","type":"quantitative","axis":{"orient":"bottom","values":[0,10,20,30,40,50],"labels":false,"tickSize":-7,"title":null}},
"y":{"field":"v","type":"quantitative","axis":{"orient":"left","values":[-4.1,-2.05,0,2.05,4.1],"labels":false,"tickSize":-6,"title":null}}
}},
{"data":{"values":[{"t":0,"v":0}]},
"mark":{"type":"point","opacity":0},
"encoding":{
"x":{"field":"t","type":"quantitative","axis":{"orient":"bottom","values":[5,15,25,35,45],"labels":false,"tickSize":-5,"title":null}},
"y":{"field":"v","type":"quantitative","axis":{"orient":"right","values":[-4.1,-2.05,0,2.05,4.1],"labels":false,"tickSize":4,"title":null}}
}},
{"data":{"values":[{"t":0,"v":0}]},
"mark":{"type":"point","opacity":0},
"encoding":{
"x":{"field":"t","type":"quantitative","axis":{"orient":"top","values":[0,10,20,30,40,50],"labels":false,"tickSize":-7,"title":null}},
"y":{"field":"v","type":"quantitative","axis":null}
}},
{"data":{"values":[{"t":0,"v":0}]},
"mark":{"type":"point","opacity":0},
"encoding":{
"x":{"field":"t","type":"quantitative","axis":{"orient":"top","values":[5,15,25,35,45],"labels":false,"tickSize":-5,"title":null}},
"y":{"field":"v","type":"quantitative","axis":null}
}}
]
}
]
}
